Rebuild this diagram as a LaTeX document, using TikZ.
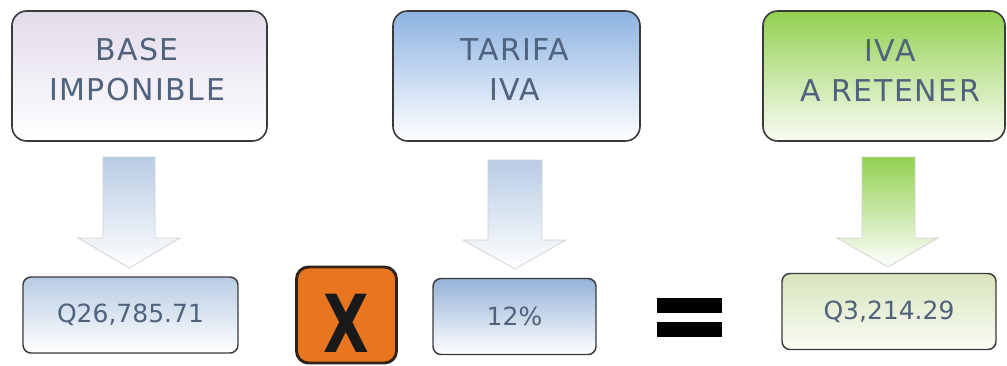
\documentclass[tikz,border=0pt]{standalone}
\usepackage{fontspec}
\setmainfont{DejaVu Sans}
\definecolor{txtblue}{RGB}{79,98,126}
\definecolor{boxline}{RGB}{58,58,58}
\definecolor{lavtop}{RGB}{226,219,235}
\definecolor{bluetop}{RGB}{141,179,226}
\definecolor{greentop}{RGB}{146,208,80}
\definecolor{greenbot}{RGB}{250,252,245}
\definecolor{arrowblue}{RGB}{184,204,228}
\definecolor{valblue}{RGB}{184,204,228}
\definecolor{valblue2}{RGB}{149,179,215}
\definecolor{valgreen}{RGB}{215,228,188}
\definecolor{xorange}{RGB}{232,118,30}
\definecolor{xline}{RGB}{50,35,25}
\begin{document}
\begin{tikzpicture}[x=0.75pt,y=-0.75pt,
  lbl/.style={text=txtblue, align=center, inner sep=0pt,
    font=\fontsize{22.5}{30}\selectfont\addfontfeature{LetterSpace=5}},
  topbox/.style={draw=boxline, line width=1.2pt, rounded corners=11pt,
    minimum height=97.5pt},
  valbox/.style={draw=boxline, line width=1.1pt, rounded corners=6pt,
    minimum height=57pt, text=txtblue, font=\fontsize{18.75}{22}\selectfont},
  downarrow/.style={draw=gray!35, line width=0.6pt},
  eqbar/.style={fill=black, inner sep=0pt, minimum width=48.75pt, minimum height=11.25pt}
]
\useasboundingbox (0,0) rectangle (1007,365);

% header boxes
\node[topbox, minimum width=191.25pt, top color=lavtop, bottom color=white]
  (base) at (139.5,76) {};
\node[topbox, minimum width=185.25pt, top color=bluetop, bottom color=white]
  (tarifa) at (516.5,76) {};
\node[topbox, minimum width=181.5pt, top color=greentop, bottom color=greenbot]
  (iva) at (884,76) {};
\node[lbl] (baselbl) at (137,70) {BASE\\IMPONIBLE};
\node[lbl] (tarifalbl) at (515,70) {TARIFA\\IVA};
\node[lbl] (ivalbl) at (890,71) {IVA\\A RETENER};

% block arrows pointing down
\path[downarrow, top color=arrowblue, bottom color=white]
  (103,157) -- (155,157) -- (155,238) -- (180,238) -- (129.5,268)
  -- (78,238) -- (103,238) -- cycle;
\path[downarrow, top color=arrowblue, bottom color=white]
  (488,160) -- (542,160) -- (542,240) -- (566,240) -- (515,269)
  -- (463,240) -- (488,240) -- cycle;
\path[downarrow, top color=greentop, bottom color=white]
  (862,157) -- (915,157) -- (915,238) -- (938,238) -- (888,267)
  -- (837,238) -- (862,238) -- cycle;

% value boxes
\node[valbox, minimum width=161.25pt, top color=valblue, bottom color=white]
  (vbase) at (130.5,315) {Q26,785.71};
\node[valbox, minimum width=122.25pt, top color=valblue2, bottom color=white]
  (vtarifa) at (514.5,316.5) {12\%};
\node[valbox, minimum width=160.5pt, top color=valgreen, bottom color=greenbot]
  (viva) at (889,311.5) {Q3,214.29};

% multiplication sign
\node[draw=xline, line width=2.2pt, fill=xorange, rounded corners=9pt,
  minimum width=75pt, minimum height=72pt] (times) at (346.5,315) {};
\node[text=black!90, font=\bfseries\fontsize{60}{60}\selectfont, inner sep=0pt]
  (timesx) at (346,323) {\scalebox{0.74}[1]{X}};

% equals sign
\node[eqbar] (eqtop) at (689.5,305.5) {};
\node[eqbar] (eqbot) at (689.5,329.5) {};
\end{tikzpicture}
\end{document}
